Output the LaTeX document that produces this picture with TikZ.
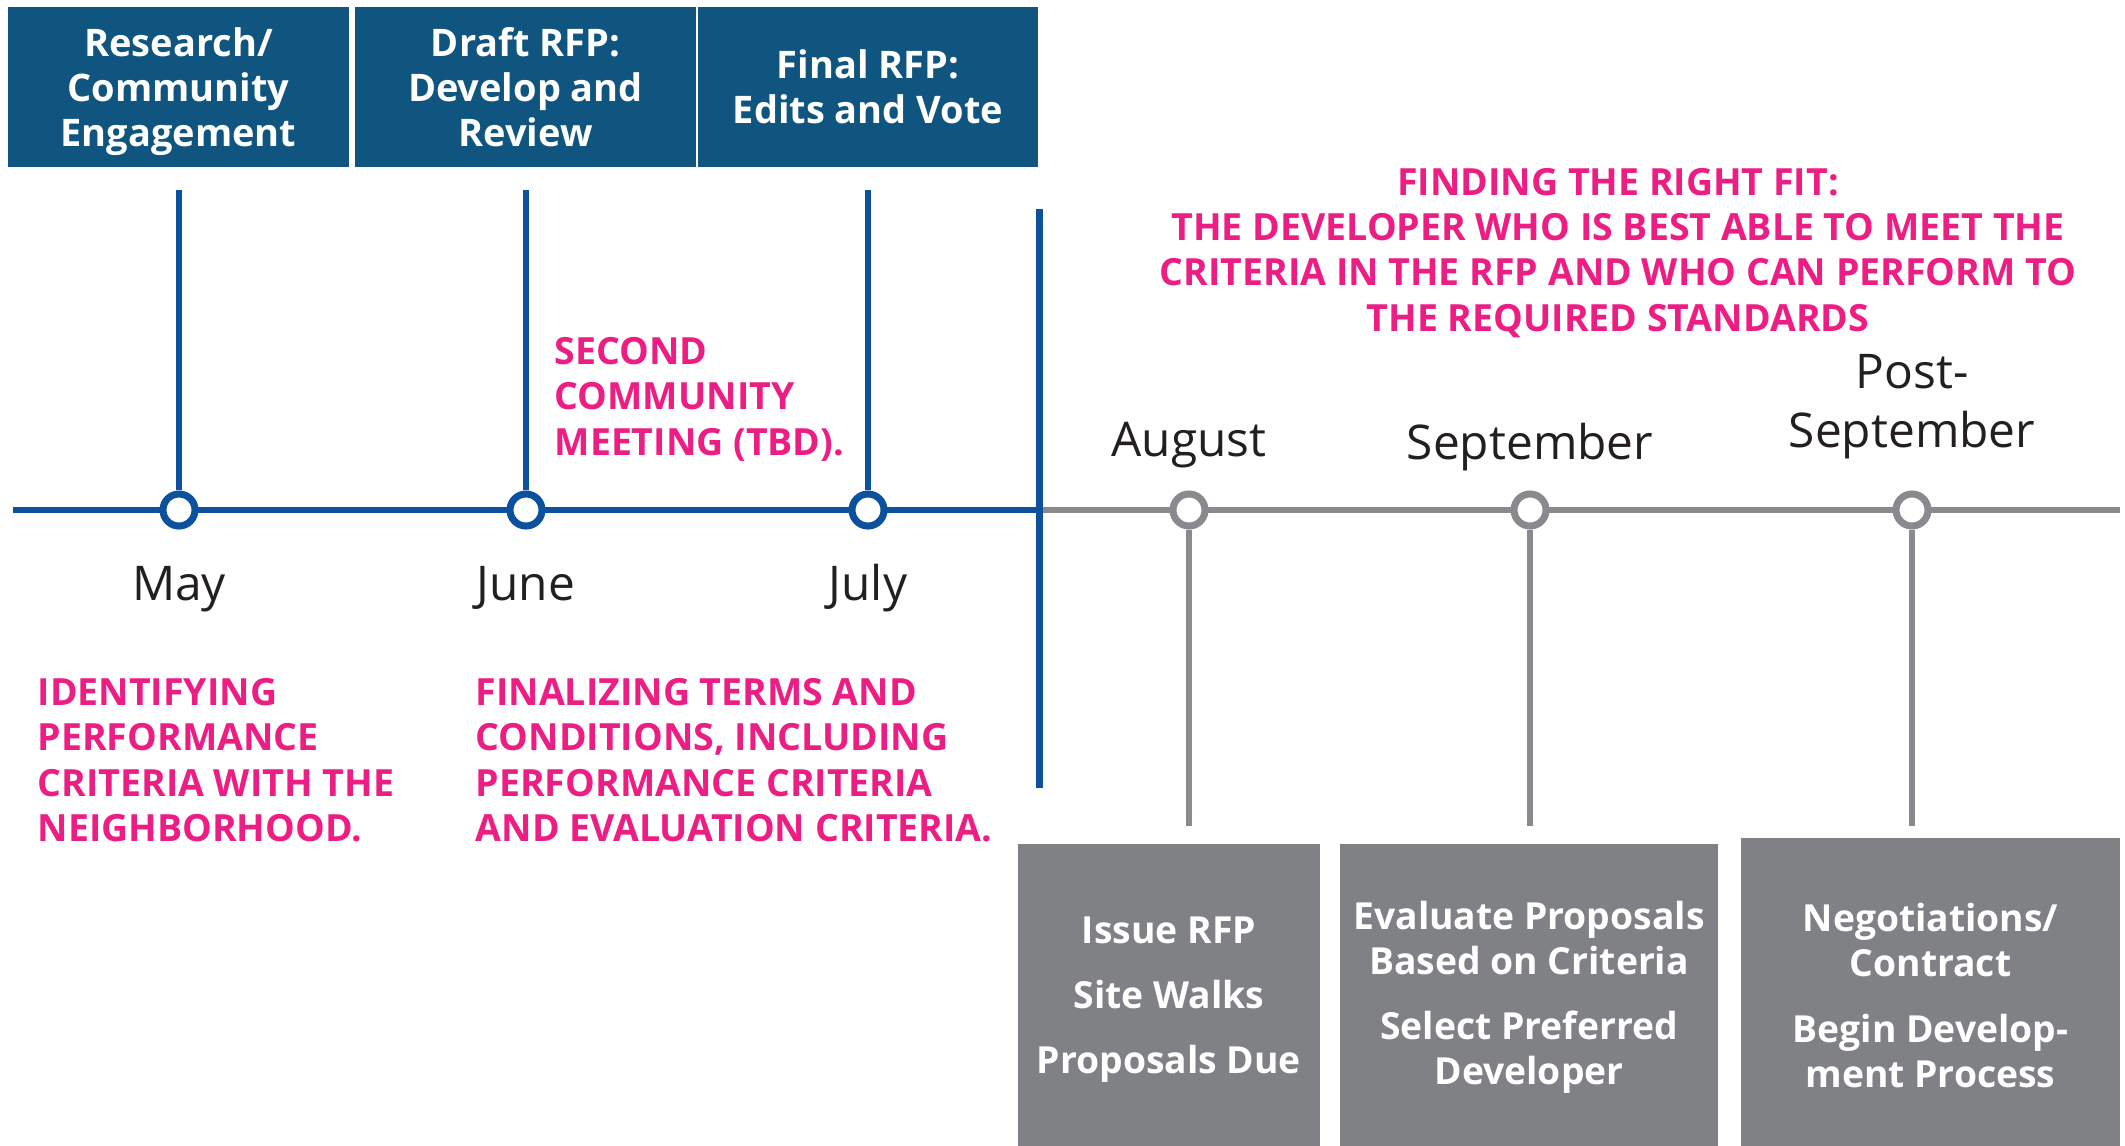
\documentclass[tikz,border=0pt]{standalone}
\usepackage{fontspec}
\setmainfont{Open Sans}
\usepackage{tikz}
\definecolor{dark_blue}{HTML}{0F5580}
\definecolor{line_blue}{HTML}{0B519D}
\definecolor{rose}{HTML}{EC1E84}
\definecolor{grey_box}{HTML}{808184}
\definecolor{grey_line}{HTML}{898A8D}
\definecolor{texte}{HTML}{231F20}

\begin{document}
\begin{tikzpicture}[x=0.01cm,y=-0.01cm,
    bloc/.style={fill=dark_blue, text=white, font=\bfseries\fontsize{10.8}{12.8}\selectfont, align=center, minimum width=3.4cm, minimum height=1.6cm, inner sep=0pt},
    case/.style={fill=grey_box, text=white, font=\bfseries\fontsize{10.6}{12.8}\selectfont, align=center, inner sep=0pt},
    rond/.style={circle, draw=#1, fill=white, line width=2pt, minimum size=0.32cm, inner sep=0pt},
    mois/.style={text=texte, font=\fontsize{13.6}{16.6}\selectfont, inner sep=0pt, anchor=base, align=center},
    note/.style={text=rose, font=\bfseries\fontsize{10.65}{12.8}\selectfont, inner sep=0pt, align=left, anchor=base west}]

    \useasboundingbox (0,0) rectangle (2125,1145);

    % Les trois étapes du haut
    \node[bloc, text depth=0pt] (research) at (178.5,87) {Research/\\Community\\Engagement};
    \node[bloc] (draft) at (525.5,87) {Draft RFP:\\Develop and\\Review};
    \node[bloc] (final) at (868,87) {Final RFP:\\Edits and Vote};

    % Définir les points de la ligne du temps
    \coordinate (debut) at (13,510);
    \coordinate (pivot) at (1039,510);
    \coordinate (fin) at (2120,510);
    \coordinate (div-haut) at (1039,209);
    \coordinate (div-bas) at (1039,788);

    % Ligne du temps : bleue puis grise
    \draw[line_blue, line width=1.5pt] (debut) -- (pivot);
    \draw[grey_line, line width=1.5pt] (pivot) -- (fin);
    \draw[line_blue, line width=2pt] (div-haut) -- (div-bas);

    % Les cercles des mois
    \node[rond=line_blue] (c-may) at (179,510) {};
    \node[rond=line_blue] (c-june) at (526,510) {};
    \node[rond=line_blue] (c-july) at (868,510) {};
    \node[rond=grey_line] (c-aug) at (1189,510) {};
    \node[rond=grey_line] (c-sep) at (1530,510) {};
    \node[rond=grey_line] (c-post) at (1912,510) {};

    % Traits verticaux
    \coordinate (h-may) at (179,190);
    \coordinate (h-june) at (526,190);
    \coordinate (h-july) at (868,190);
    \coordinate (b-aug) at (1189,826);
    \coordinate (b-sep) at (1530,826);
    \coordinate (b-post) at (1912,826);
    \draw[line_blue, line width=1.8pt] (h-may) -- (c-may);
    \draw[line_blue, line width=1.8pt] (h-june) -- (c-june);
    \draw[line_blue, line width=1.8pt] (h-july) -- (c-july);
    \draw[grey_line, line width=1.8pt] (c-aug) -- (b-aug);
    \draw[grey_line, line width=1.8pt] (c-sep) -- (b-sep);
    \draw[grey_line, line width=1.8pt] (c-post) -- (b-post);

    % Noms des mois (base = derniere ligne)
    \node[mois] (may) at (179,600) {May};
    \node[mois] (june) at (526,600) {June};
    \node[mois] (july) at (868,600) {July};
    \node[mois] (aug) at (1189,456) {August};
    \node[mois] (sep) at (1530,459) {September};
    \node[mois] (post) at (1912,447) {Post-\\September};

    % Les textes en rose
    \node[note] (second) at (554,455) {SECOND\\COMMUNITY\\MEETING (TBD).};
    \node[note] (identify) at (37,841) {IDENTIFYING\\PERFORMANCE\\CRITERIA WITH THE\\NEIGHBORHOOD.};
    \node[note] (finalize) at (475,841) {FINALIZING TERMS AND\\CONDITIONS, INCLUDING\\PERFORMANCE CRITERIA\\AND EVALUATION CRITERIA.};
    \node[note, align=center, anchor=base] (fit) at (1618,331) {FINDING THE RIGHT FIT:\\THE DEVELOPER WHO IS BEST ABLE TO MEET THE\\CRITERIA IN THE RFP AND WHO CAN PERFORM TO\\THE REQUIRED STANDARDS};

    % Les cases grises du bas (elles dépassent sous le bord de la page)
    \node[case, minimum width=3.02cm, minimum height=3.11cm] (issue) at (1169,999.5) {Issue RFP\\[5.7pt]Site Walks\\[5.7pt]Proposals Due};
    \node[case, minimum width=3.78cm, minimum height=3.06cm] (evaluate) at (1529,997) {Evaluate Proposals\\Based on Criteria\\[5.7pt]Select Preferred\\Developer};
    \node[case, minimum width=3.79cm, minimum height=3.15cm] (negotiate) at (1930.5,995.5) {Negotiations/\\Contract\\[5.7pt]Begin Develop-\\ment Process};
\end{tikzpicture}
\end{document}
